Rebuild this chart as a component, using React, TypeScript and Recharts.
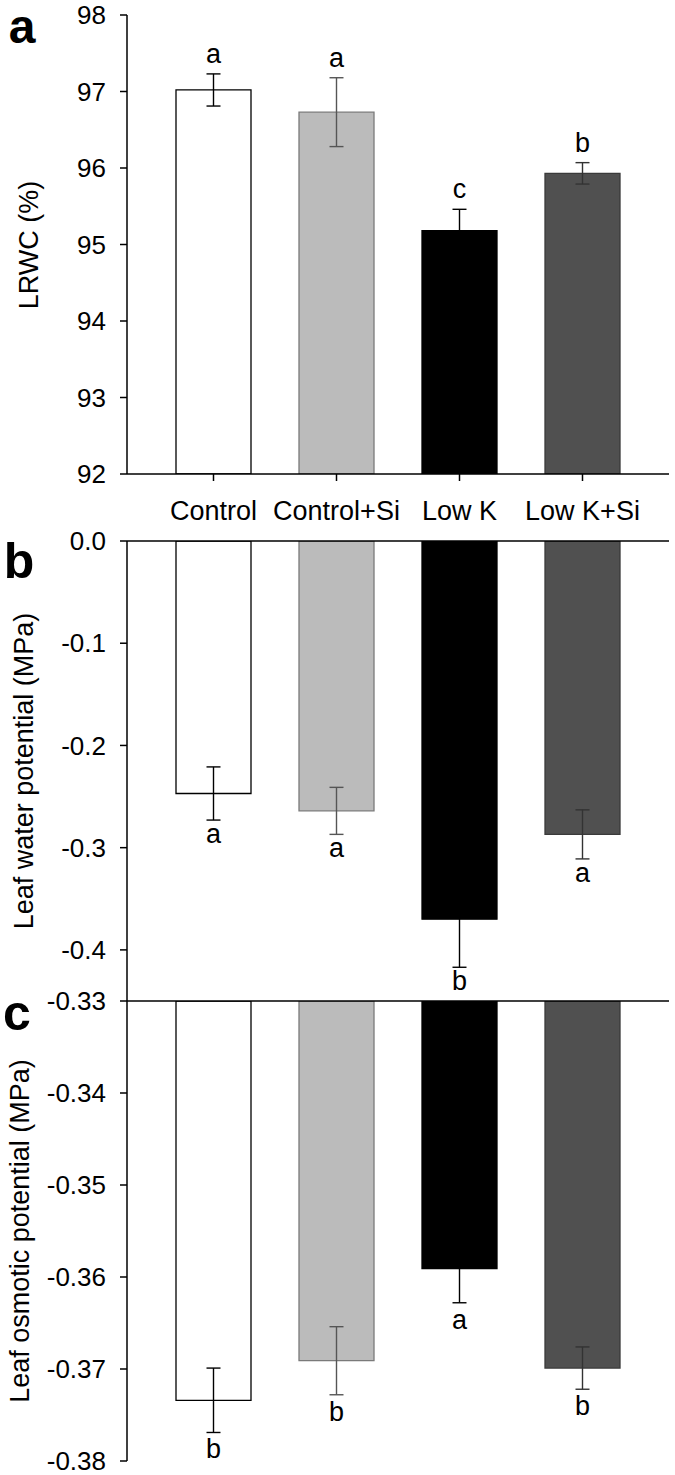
import React from "react";
import { ComposedChart, Bar, Cell, ErrorBar, Line, LabelList, XAxis, YAxis, ReferenceLine } from "recharts";

const treatments = ["Control", "Control+Si", "Low K", "Low K+Si"];

// a: leaf relative water content (%)
const lrwcMean = [97.02, 96.73, 95.18, 95.93];
const lrwcErr = [0.21, 0.45, 0.28, 0.14];
const lrwcLetters = ["a", "a", "c", "b"];
const lrwcTicks = [92, 93, 94, 95, 96, 97, 98];

// b: leaf water potential (MPa)
const lwpMean = [-0.247, -0.264, -0.37, -0.287];
const lwpErr = [0.026, 0.023, 0.047, 0.024];
const lwpLetters = ["a", "a", "b", "a"];
const lwpTicks = [0, -0.1, -0.2, -0.3, -0.4];

// c: leaf osmotic potential (MPa)
const lopMean = [-0.3734, -0.3691, -0.3591, -0.3699];
const lopErr = [0.0035, 0.0037, 0.0037, 0.0023];
const lopLetters = ["b", "b", "a", "b"];
const lopTicks = [-0.33, -0.34, -0.35, -0.36, -0.37, -0.38];

const fills = ["#ffffff", "#bbbbbb", "#000000", "#505050"];
const edges = ["#000000", "#7a7a7a", "#000000", "#3a3a3a"];
const errColors = ["#000000", "#555555", "#000000", "#333333"];

const FONT = "'Liberation Sans', Arial, sans-serif";

function buildRows(mean: number[], err: number[], letters: string[], up: boolean) {
  return treatments.map((name, i) => {
    const row: any = { name, mean: mean[i], letter: letters[i], letterAt: up ? mean[i] + err[i] : mean[i] - err[i] };
    row["e" + i] = err[i];
    return row;
  });
}

type PanelProps = {
  mean: number[];
  err: number[];
  letters: string[];
  up: boolean;
  ticks: number[];
  domain: [number, number];
  fmt: (v: number) => string;
  top: number;
  height: number;
  margin: { top: number; right: number; bottom: number; left: number };
  showX: boolean;
  topLine?: number;
  letterDy: number;
};

function Panel(p: PanelProps) {
  const rows = buildRows(p.mean, p.err, p.letters, p.up);
  const renderLetter = (props: any) => {
    const x = props.x ?? props.viewBox?.x;
    const y = props.y ?? props.viewBox?.y;
    return (
      <text x={x} y={y + p.letterDy} textAnchor="middle" fontSize={27} fontFamily={FONT} fill="#000">
        {props.value}
      </text>
    );
  };
  return (
    <div style={{ position: "absolute", left: 0, top: p.top }}>
      <ComposedChart width={675} height={p.height} data={rows} margin={p.margin}>
        <XAxis
          dataKey="name"
          type="category"
          hide={!p.showX}
          padding={{ left: 25, right: 25 }}
          height={56}
          axisLine={{ stroke: "#000", strokeWidth: 1.5 }}
          tickLine={{ stroke: "#000", strokeWidth: 1.5 }}
          tickSize={7}
          tickMargin={20}
          interval={0}
          tick={{ fontSize: 27, fill: "#000", fontFamily: FONT }}
        />
        <YAxis
          type="number"
          width={127}
          domain={p.domain}
          ticks={p.ticks}
          interval={0}
          allowDataOverflow
          tickFormatter={p.fmt}
          axisLine={{ stroke: "#000", strokeWidth: 1.5 }}
          tickLine={{ stroke: "#000", strokeWidth: 1.5 }}
          tickSize={7}
          tickMargin={14}
          tick={{ fontSize: 26, fill: "#000", fontFamily: FONT }}
        />
        <Bar dataKey="mean" barSize={75} isAnimationActive={false} strokeWidth={1.3}>
          {rows.map((r, i) => (
            <Cell key={r.name} fill={fills[i]} stroke={edges[i]} />
          ))}
          {treatments.map((t, i) => (
            <ErrorBar key={t} dataKey={"e" + i} width={7} stroke={errColors[i]} strokeWidth={1.4} direction="y" />
          ))}
        </Bar>
        <Line dataKey="letterAt" stroke="none" dot={false} activeDot={false} isAnimationActive={false} legendType="none">
          <LabelList dataKey="letter" content={renderLetter} />
        </Line>
        {p.topLine !== undefined && <ReferenceLine y={p.topLine} stroke="#000" strokeWidth={1.5} />}
      </ComposedChart>
    </div>
  );
}

export default function App() {
  return (
    <div style={{ position: "absolute", left: 0, top: 0, width: 675, height: 1475, background: "#fff", fontFamily: FONT }}>
      <Panel
        mean={lrwcMean} err={lrwcErr} letters={lrwcLetters} up ticks={lrwcTicks} domain={[92, 98]}
        fmt={(v) => String(v)} top={0} height={530} margin={{ top: 15, right: 6, bottom: 0, left: 0 }}
        showX letterDy={-11}
      />
      <Panel
        mean={lwpMean} err={lwpErr} letters={lwpLetters} up={false} ticks={lwpTicks} domain={[-0.45, 0]}
        fmt={(v) => v.toFixed(1)} top={521} height={480} margin={{ top: 20, right: 6, bottom: 0, left: 0 }}
        showX={false} topLine={0} letterDy={23}
      />
      <Panel
        mean={lopMean} err={lopErr} letters={lopLetters} up={false} ticks={lopTicks} domain={[-0.38, -0.33]}
        fmt={(v) => v.toFixed(2)} top={981} height={494} margin={{ top: 20, right: 6, bottom: 14, left: 0 }}
        showX={false} topLine={-0.33} letterDy={26}
      />
      <svg width={675} height={1475} style={{ position: "absolute", left: 0, top: 0, pointerEvents: "none" }}>
        <g fontFamily={FONT} fill="#000">
          <text x={22} y={43} fontSize={48} fontWeight="bold" textAnchor="middle">a</text>
          <text x={19} y={578} fontSize={50} fontWeight="bold" textAnchor="middle">b</text>
          <text x={17} y={1030} fontSize={50} fontWeight="bold" textAnchor="middle">c</text>
          <text transform="translate(38,245) rotate(-90)" fontSize={27} textAnchor="middle">LRWC (%)</text>
          <text transform="translate(33,771) rotate(-90)" fontSize={27} textAnchor="middle">Leaf water potential (MPa)</text>
          <text transform="translate(29,1231) rotate(-90)" fontSize={27} textAnchor="middle">Leaf osmotic potential (MPa)</text>
        </g>
      </svg>
    </div>
  );
}
